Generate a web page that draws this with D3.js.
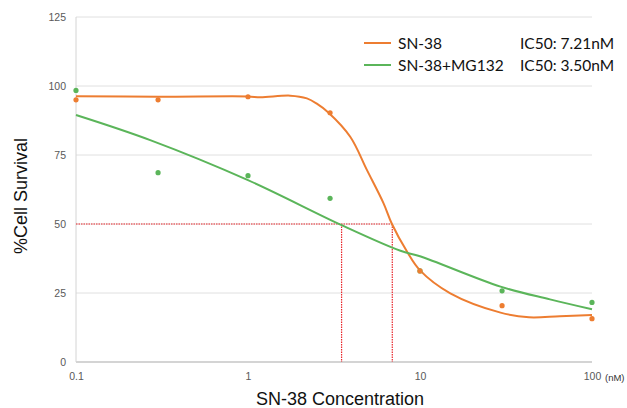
<!DOCTYPE html>
<html>

<head>
    <title>SN-38 cell survival</title>
    <script src="https://cdn.jsdelivr.net/npm/d3@7"></script>
    <style>
        body {
            margin: 0;
            background: #fff;
        }
    </style>
</head>

<body>
    <div id="visDiv"></div>
</body>
<script>
    /* Data */
    var concentrations = [0.1, 0.3, 1, 3, 10, 30, 100];
    var sn38Points = [95, 95, 96.1, 90.3, 33, 20.4, 15.7];
    var mg132Points = [98.4, 68.6, 67.5, 59.3, 33, 25.8, 21.6];

    // fitted curves
    var sn38FitX = [0.1, 0.3, 1, 1.18, 1.76, 2.2, 2.5, 2.93, 3.93, 4.91, 6.14, 6.87, 8.4, 10, 15, 29.4, 43, 65, 100];
    var sn38FitY = [96.3, 96.1, 96.2, 95.9, 96.5, 95.5, 93.7, 90.4, 81.6, 69.6, 57.5, 50, 40, 33.2, 24.9, 17.9, 16.2, 16.6, 17];
    var mg132FitX = [0.1, 0.27, 1, 3.5, 7.7, 10, 29.4, 57, 100];
    var mg132FitY = [89.5, 80.4, 65.9, 49.6, 40.3, 38.3, 27.3, 22.7, 19.1];

    var ic50Lines = [3.5, 6.9];
    var yTicks = [0, 25, 50, 75, 100, 125];
    var xTicks = [0.1, 1, 10, 100];
    var legendNames = ["SN-38", "SN-38+MG132"];
    var legendIC50 = ["IC50: 7.21nM", "IC50: 3.50nM"];
    var colors = ["#ED7D31", "#5BB55A"];

    /* Layout constants */
    var W = 627, H = 408;
    var margin = { top: 17, right: 35, bottom: 46, left: 76 },
        width = W - margin.left - margin.right,
        height = H - margin.top - margin.bottom;

    var svg = d3.select("#visDiv")
        .append("svg")
        .attr("width", W)
        .attr("height", H)
        .style("font-family", "'Liberation Sans', Arial, sans-serif");

    var g = svg.append("g")
        .attr("transform", "translate(" + margin.left + "," + margin.top + ")");

    /* Scales */
    var x = d3.scaleLog().domain([0.1, 100]).range([0, width]);
    var y = d3.scaleLinear().domain([0, 125]).range([height, 0]);

    /* Grid */
    g.selectAll(".grid")
        .data(yTicks.filter(function (d) { return d > 0; }))
        .enter().append("line")
        .attr("x1", 0).attr("x2", width)
        .attr("y1", function (d) { return y(d); })
        .attr("y2", function (d) { return y(d); })
        .attr("stroke", "#e0e0e0")
        .attr("stroke-width", 1);

    g.append("line")
        .attr("x1", 0).attr("x2", 0)
        .attr("y1", y(125)).attr("y2", y(0))
        .attr("stroke", "#d4d4d4");
    g.append("line")
        .attr("x1", 0).attr("x2", width)
        .attr("y1", y(0)).attr("y2", y(0))
        .attr("stroke", "#d4d4d4")
        .attr("stroke-width", 2);

    /* Axes */
    var yAxis = d3.axisLeft(y).tickValues(yTicks).tickSize(0).tickPadding(10);
    var gy = g.append("g").call(yAxis);
    gy.select(".domain").remove();
    gy.selectAll("text").attr("fill", "#595959").style("font-size", "10.5px");

    var xAxis = d3.axisBottom(x).tickValues(xTicks).tickSize(0).tickPadding(11)
        .tickFormat(function (d) { return d3.format("~g")(d); });
    var gx = g.append("g").attr("transform", "translate(0," + height + ")").call(xAxis);
    gx.select(".domain").remove();
    gx.selectAll("text").attr("fill", "#595959").style("font-size", "10.5px");

    g.append("text")
        .attr("x", width + 13)
        .attr("y", height + 19)
        .attr("fill", "#333")
        .style("font-size", "9.5px")
        .text("(nM)");

    /* IC50 guide lines */
    g.append("line")
        .attr("x1", 0).attr("x2", x(d3.max(ic50Lines)))
        .attr("y1", y(50)).attr("y2", y(50))
        .attr("stroke", "#e8262a").attr("stroke-width", 1.2)
        .attr("stroke-dasharray", "1.5,1");
    g.selectAll(".ic50")
        .data(ic50Lines)
        .enter().append("line")
        .attr("x1", function (d) { return x(d); })
        .attr("x2", function (d) { return x(d); })
        .attr("y1", y(50)).attr("y2", y(0))
        .attr("stroke", "#e8262a").attr("stroke-width", 1.2)
        .attr("stroke-dasharray", "1.5,1");

    /* Curves */
    var line = d3.line()
        .x(function (d) { return x(d[0]); })
        .y(function (d) { return y(d[1]); })
        .curve(d3.curveCatmullRom.alpha(0.5));

    var fits = [d3.zip(sn38FitX, sn38FitY), d3.zip(mg132FitX, mg132FitY)];
    fits.forEach(function (f, i) {
        g.append("path")
            .datum(f)
            .attr("fill", "none")
            .attr("stroke", colors[i])
            .attr("stroke-width", 2)
            .attr("d", line);
    });

    /* Points */
    var pointSets = [sn38Points, mg132Points];
    [1, 0].forEach(function (i) {
        g.selectAll(".pt" + i)
            .data(d3.zip(concentrations, pointSets[i]))
            .enter().append("circle")
            .attr("cx", function (d) { return x(d[0]); })
            .attr("cy", function (d) { return y(d[1]); })
            .attr("r", 2.6)
            .attr("fill", colors[i]);
    });

    /* Legend */
    var legend = svg.append("g").style("font-family", "Lato, 'Open Sans', sans-serif");
    legendNames.forEach(function (name, i) {
        var ly = 43 + i * 22;
        legend.append("line")
            .attr("x1", 364).attr("x2", 391)
            .attr("y1", ly).attr("y2", ly)
            .attr("stroke", colors[i]).attr("stroke-width", 2);
        legend.append("text")
            .attr("x", 398).attr("y", ly + 6)
            .style("font-size", "15.5px").attr("fill", "#111")
            .text(name);
        legend.append("text")
            .attr("x", 520).attr("y", ly + 6)
            .style("font-size", "15.5px").attr("fill", "#111")
            .text(legendIC50[i]);
    });

    /* Titles */
    svg.append("text")
        .attr("x", 340).attr("y", 405)
        .attr("text-anchor", "middle")
        .style("font-size", "18px").attr("fill", "#111")
        .text("SN-38 Concentration");
    svg.append("text")
        .attr("transform", "translate(27,196) rotate(-90)")
        .attr("text-anchor", "middle")
        .style("font-size", "18px").attr("fill", "#111")
        .text("%Cell Survival");
</script>

</html>
